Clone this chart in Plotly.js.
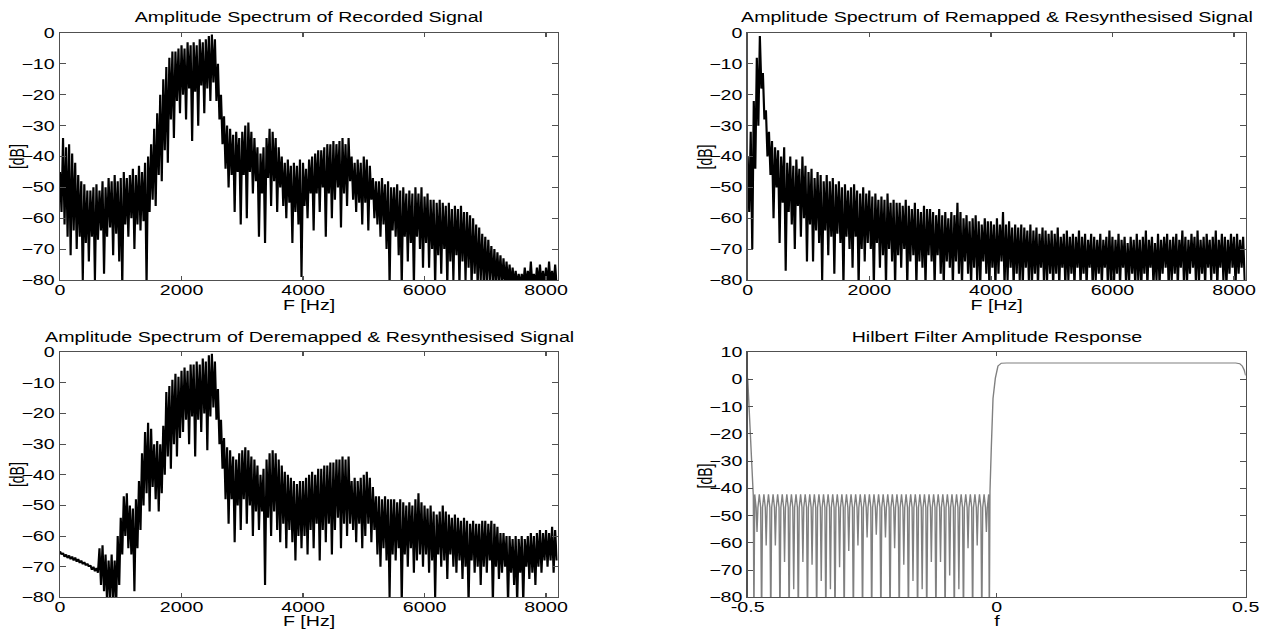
<!DOCTYPE html>
<html>
<head>
<meta charset="utf-8">
<script src="https://cdn.plot.ly/plotly-3.0.1.min.js"></script>
<style>
html,body{margin:0;padding:0;background:#fff;overflow:hidden;}
#wrap{width:1266px;height:630px;overflow:hidden;}
#chart{width:904px;height:630px;transform:scaleX(1.40044);transform-origin:0 0;}
</style>
</head>
<body>
<div id="wrap"><div id="chart"></div></div>
<script>
// ---- Data ----
// Spectra sampled every 50 Hz: upper (hi) and lower (lo) excursion of the noisy trace.
const specStepHz = 50;

const recordedHi = [
 -45,-34,-37,-36,-39,-42,-46,-48,-49,-51,
 -51,-50,-49,-51,-48,-50,-47,-48,-46,-48,
 -47,-45,-47,-46,-44,-46,-43,-45,-42,-40,
 -36,-31,-26,-20,-15,-11,-8,-6,-6,-5,
 -4,-5,-3,-4,-3,-4,-2,-3,-2,-1,
 -0.5,-2,-10,-20,-27,-30,-31,-33,-32,-34,
 -32,-30,-29,-32,-34,-37,-39,-37,-34,-31,
 -32,-34,-37,-40,-42,-41,-43,-42,-43,-41,
 -42,-44,-41,-40,-39,-38,-38,-37,-36,-36,
 -35,-36,-35,-34,-36,-34,-40,-42,-41,-42,
 -40,-41,-43,-47,-48,-48,-47,-49,-48,-50,
 -50,-49,-51,-50,-52,-51,-52,-50,-52,-50,
 -53,-52,-54,-54,-55,-54,-55,-56,-55,-57,
 -56,-57,-56,-58,-58,-59,-60,-62,-63,-65,
 -66,-67,-69,-70,-71,-72,-73,-74,-75,-76,
 -77,-78,-78,-76,-77,-74,-78,-76,-75,-77,
 -76,-74,-77,-75
];
const recordedLo = [
 -58,-62,-66,-72,-64,-70,-66,-80,-68,-74,
 -66,-80,-67,-64,-78,-66,-63,-72,-65,-74,
 -82,-62,-66,-60,-70,-62,-64,-61,-82,-58,
 -54,-56,-46,-48,-38,-42,-28,-34,-22,-26,
 -20,-28,-18,-35,-19,-30,-17,-26,-18,-22,
 -16,-22,-28,-36,-44,-50,-46,-58,-45,-62,
 -46,-60,-45,-52,-48,-66,-52,-68,-47,-56,
 -48,-58,-50,-56,-60,-55,-68,-58,-62,-79,
 -56,-60,-52,-64,-52,-58,-50,-66,-52,-60,
 -54,-50,-63,-52,-56,-48,-54,-58,-55,-62,
 -55,-64,-54,-60,-62,-66,-62,-70,-82,-64,
 -66,-72,-82,-66,-74,-68,-82,-66,-70,-76,
 -68,-76,-70,-82,-72,-78,-70,-82,-74,-80,
 -72,-82,-74,-80,-76,-82,-78,-82,-80,-82,
 -82,-80,-82,-82,-81,-82,-82,-82,-82,-82,
 -82,-82,-82,-82,-82,-82,-82,-82,-82,-82,
 -82,-82,-82,-82
];

const remappedHi = [
 -40,-32,-22,-8,-1,-13,-25,-32,-35,-37,
 -38,-40,-37,-42,-40,-43,-41,-44,-40,-43,
 -45,-44,-47,-45,-46,-48,-46,-48,-47,-49,
 -48,-50,-49,-51,-50,-49,-51,-52,-50,-52,
 -51,-53,-52,-54,-53,-54,-52,-55,-54,-55,
 -55,-56,-54,-56,-57,-55,-57,-58,-56,-57,
 -57,-58,-59,-57,-59,-58,-60,-58,-59,-55,
 -58,-60,-59,-61,-60,-59,-61,-62,-60,-61,
 -61,-62,-60,-62,-58,-62,-61,-63,-62,-63,
 -62,-63,-64,-62,-64,-63,-65,-63,-64,-65,
 -64,-65,-63,-66,-65,-64,-66,-65,-66,-64,
 -66,-65,-67,-65,-66,-67,-65,-67,-66,-64,
 -66,-67,-65,-67,-66,-68,-66,-67,-65,-67,
 -66,-64,-67,-66,-68,-65,-67,-66,-65,-67,
 -66,-65,-67,-64,-66,-67,-65,-66,-64,-67,
 -66,-65,-67,-66,-64,-67,-65,-66,-67,-65,
 -66,-65,-67,-66
];
const remappedLo = [
 -58,-70,-44,-30,-18,-28,-40,-46,-60,-50,
 -68,-55,-77,-58,-62,-70,-56,-66,-60,-74,
 -62,-74,-64,-68,-80,-64,-72,-66,-78,-65,
 -68,-82,-66,-70,-76,-66,-82,-70,-74,-68,
 -70,-82,-68,-76,-72,-82,-70,-74,-82,-72,
 -76,-70,-82,-74,-72,-82,-74,-76,-82,-72,
 -74,-82,-72,-78,-82,-74,-76,-82,-74,-78,
 -82,-74,-78,-82,-76,-80,-82,-74,-78,-82,
 -76,-82,-78,-74,-82,-80,-76,-82,-78,-80,
 -82,-76,-80,-82,-78,-82,-76,-82,-80,-78,
 -82,-78,-82,-76,-82,-80,-78,-82,-76,-82,
 -78,-82,-76,-82,-80,-78,-82,-76,-82,-80,
 -82,-78,-82,-76,-82,-80,-78,-82,-80,-82,
 -78,-82,-76,-82,-80,-82,-78,-76,-82,-80,
 -78,-82,-76,-80,-82,-78,-76,-82,-80,-78,
 -82,-76,-80,-78,-82,-76,-80,-82,-78,-76,
 -82,-78,-76,-80
];

const deremappedHi = [
 -65,-65.5,-66,-66.3,-66.7,-67,-67.5,-68,-68.5,-69,
 -69.5,-70,-70.4,-64,-63,-66,-68,-66,-68,-60,
 -54,-47,-46,-50,-51,-48,-42,-33,-26,-23,
 -25,-30,-29,-30,-24,-13,-11,-9,-7,-8,
 -6,-5,-6,-4,-4,-3,-4,-2,-3,-1,
 -0.5,-3,-12,-22,-28,-31,-32,-34,-35,-33,
 -32,-31,-32,-34,-35,-37,-40,-38,-35,-33,
 -32,-33,-35,-37,-39,-40,-41,-42,-43,-42,
 -42,-41,-40,-39,-40,-38,-38,-37,-37,-36,
 -36,-35,-35,-34,-35,-34,-42,-41,-42,-41,
 -40,-39,-41,-44,-47,-47,-48,-47,-48,-48,
 -48,-49,-48,-49,-50,-49,-50,-48,-46,-49,
 -50,-51,-50,-52,-53,-52,-50,-52,-53,-54,
 -53,-54,-55,-54,-55,-56,-55,-56,-56,-55,
 -55,-56,-55,-56,-57,-59,-59,-60,-60,-61,
 -60,-61,-60,-61,-60,-59,-60,-59,-58,-59,
 -58,-59,-57,-58
];
const deremappedLo = [
 -66,-66.8,-67.2,-67.6,-68,-68.4,-68.8,-69.2,-69.6,-70,
 -71,-71.5,-72,-76,-78,-82,-80,-82,-82,-76,
 -66,-60,-64,-66,-78,-64,-58,-50,-46,-52,
 -44,-48,-52,-46,-40,-34,-38,-30,-34,-28,
 -26,-22,-30,-21,-34,-22,-26,-20,-32,-21,
 -18,-22,-30,-38,-48,-56,-48,-62,-50,-58,
 -48,-56,-50,-60,-52,-58,-52,-76,-54,-60,
 -52,-58,-62,-56,-64,-58,-62,-68,-60,-64,
 -60,-66,-58,-64,-56,-68,-58,-62,-56,-66,
 -58,-54,-64,-56,-60,-56,-58,-62,-56,-64,
 -60,-56,-62,-58,-66,-70,-64,-68,-80,-66,
 -68,-64,-82,-66,-70,-64,-72,-68,-66,-70,
 -66,-72,-68,-80,-66,-70,-68,-74,-66,-70,
 -72,-68,-74,-70,-82,-68,-72,-70,-76,-70,
 -72,-68,-82,-70,-74,-72,-70,-82,-72,-76,
 -82,-72,-82,-70,-74,-72,-76,-70,-72,-68,
 -70,-68,-72,-68
];

// Hilbert filter amplitude response (normalised frequency f, dB)
const hilbLeftF  = [-0.5, -0.4975, -0.495, -0.4915, -0.4887, -0.4875];
const hilbLeftDB = [0.5, -10, -22, -35, -43, -90];
const hilbRippleStartF = -0.4859;
const hilbRippleEndF   = -0.0161;
const hilbRipplePeakDB = -42.2;
const hilbRippleShoulderDB = -47;
const hilbNullDB = [
 -56,-90,-61,-90,-61,-90,-67,-90,-77,-90,-67,-90,-68,-90,-74,-90,-77,-90,-69,-90,
 -63,-90,-61,-90,-58,-90,-57,-90,-58,-90,-62,-90,-68,-90,-74,-90,-77,-90,-67,-90,
 -67,-90,-72,-90,-77,-90,-62,-90,-61,-90,-56
];
const hilbRightF  = [-0.0148, -0.0135, -0.0108, -0.0074, -0.0027, 0.0026, 0.0093, 0.02, 0.48, 0.488, 0.493, 0.497, 0.5];
const hilbRightDB = [-90, -41, -25, -7, 0.5, 5, 6, 6.1, 6.1, 5.8, 5, 3.5, 1.5];

// ---- Build traces ----
function zigzag(hi, lo) {
  const x = [], y = [];
  for (let k = 0; k < hi.length; k++) {
    x.push(k * specStepHz);                y.push(hi[k]);
    x.push(k * specStepHz + specStepHz/2); y.push(lo[k]);
  }
  return {x, y};
}
function hilbert() {
  const x = hilbLeftF.slice(), y = hilbLeftDB.slice();
  const nPeaks = hilbNullDB.length + 1;
  const w = (hilbRippleEndF - hilbRippleStartF) / (nPeaks - 1);
  for (let i = 0; i < nPeaks; i++) {
    const c = hilbRippleStartF + i * w;
    x.push(c); y.push(hilbRipplePeakDB);
    if (i < nPeaks - 1) {
      x.push(c + 0.3 * w); y.push(hilbRippleShoulderDB);
      x.push(c + 0.5 * w); y.push(hilbNullDB[i]);
      x.push(c + 0.7 * w); y.push(hilbRippleShoulderDB);
    }
  }
  for (let i = 0; i < hilbRightF.length; i++) { x.push(hilbRightF[i]); y.push(hilbRightDB[i]); }
  return {x, y};
}

const r1 = zigzag(recordedHi, recordedLo);
const r2 = zigzag(remappedHi, remappedLo);
const r3 = zigzag(deremappedHi, deremappedLo);
const h  = hilbert();

const lineSpec = {color: '#000000', width: 1.55};
const traces = [
  {x: r1.x, y: r1.y, type: 'scatter', mode: 'lines', line: lineSpec, xaxis: 'x',  yaxis: 'y',  hoverinfo: 'skip'},
  {x: r2.x, y: r2.y, type: 'scatter', mode: 'lines', line: lineSpec, xaxis: 'x2', yaxis: 'y2', hoverinfo: 'skip'},
  {x: r3.x, y: r3.y, type: 'scatter', mode: 'lines', line: lineSpec, xaxis: 'x3', yaxis: 'y3', hoverinfo: 'skip'},
  {x: h.x,  y: h.y,  type: 'scatter', mode: 'lines', line: {color: '#808080', width: 1}, xaxis: 'x4', yaxis: 'y4', hoverinfo: 'skip'}
];

const FONT = 'Liberation Sans, Arial, Helvetica, sans-serif';
const axisCommon = {
  showline: true, mirror: 'ticks', linecolor: '#505050', linewidth: 1,
  ticks: 'inside', tickcolor: '#505050', tickwidth: 1, ticklen: 4,
  showgrid: false, zeroline: false,
  tickfont: {family: FONT, size: 14, color: '#000'}
};
const dL = [0.04739, 0.44052], dR = [0.5906, 0.98396];
const dT = [0.5556, 0.9476],   dB = [0.0519, 0.4408];
function xa(dom, anchor, range, tv, tt) {
  return Object.assign({}, axisCommon, {domain: dom, anchor: anchor, range: range, tickvals: tv, ticktext: tt,
    ticklabelstandoff: -3});
}
function ya(dom, anchor, range, tv) {
  return Object.assign({}, axisCommon, {domain: dom, anchor: anchor, range: range, tickvals: tv});
}
const hzTicks = [0, 2000, 4000, 6000, 8000];
const hzText = ['0', '2000', '4000', '6000', '8000'];
const dbTicks = [-80, -70, -60, -50, -40, -30, -20, -10, 0];
const dbTicks4 = [-80, -70, -60, -50, -40, -30, -20, -10, 0, 10];

function label(text, xc, ypx, angle) {
  return {text: text, xref: 'paper', yref: 'paper', x: xc, y: 1 - ypx/630, xanchor: 'center', yanchor: 'middle',
    textangle: angle || 0, showarrow: false, font: {family: FONT, size: 14, color: '#000'}};
}
const cL = (dL[0]+dL[1])/2, cR = (dR[0]+dR[1])/2;
const yTitleL = 12.1/904, yTitleR = 503.4/904;

const layout = {
  width: 904, height: 630,
  margin: {l: 0, r: 0, t: 0, b: 0},
  paper_bgcolor: '#fff', plot_bgcolor: '#fff',
  showlegend: false,
  font: {family: FONT, size: 14, color: '#000'},
  xaxis:  xa(dL, 'y',  [0, 8192], hzTicks, hzText),
  yaxis:  ya(dT, 'x',  [-80, 0], dbTicks),
  xaxis2: xa(dR, 'y2', [0, 8192], hzTicks, hzText),
  yaxis2: ya(dT, 'x2', [-80, 0], dbTicks),
  xaxis3: xa(dL, 'y3', [0, 8192], hzTicks, hzText),
  yaxis3: ya(dB, 'x3', [-80, 0], dbTicks),
  xaxis4: xa(dR, 'y4', [-0.5, 0.5], [-0.5, 0, 0.5], ['-0.5', '0', '0.5']),
  yaxis4: ya(dB, 'x4', [-80, 10], dbTicks4),
  annotations: [
    label('Amplitude Spectrum of Recorded Signal', cL, 17),
    label('Amplitude Spectrum of Remapped &amp; Resynthesised Signal', cR, 17),
    label('Amplitude Spectrum of Deremapped &amp; Resynthesised Signal', cL, 337),
    label('Hilbert Filter Amplitude Response', cR, 337),
    label('F [Hz]', cL, 305),
    label('F [Hz]', cR, 305),
    label('F [Hz]', cL, 620.5),
    label('f', cR, 620.5),
    label('[dB]', yTitleL, 157, -90),
    label('[dB]', yTitleR, 157, -90),
    label('[dB]', yTitleL, 475, -90),
    label('[dB]', yTitleR, 476, -90)
  ]
};

Plotly.newPlot('chart', traces, layout, {staticPlot: true, displayModeBar: false});
</script>
</body>
</html>
